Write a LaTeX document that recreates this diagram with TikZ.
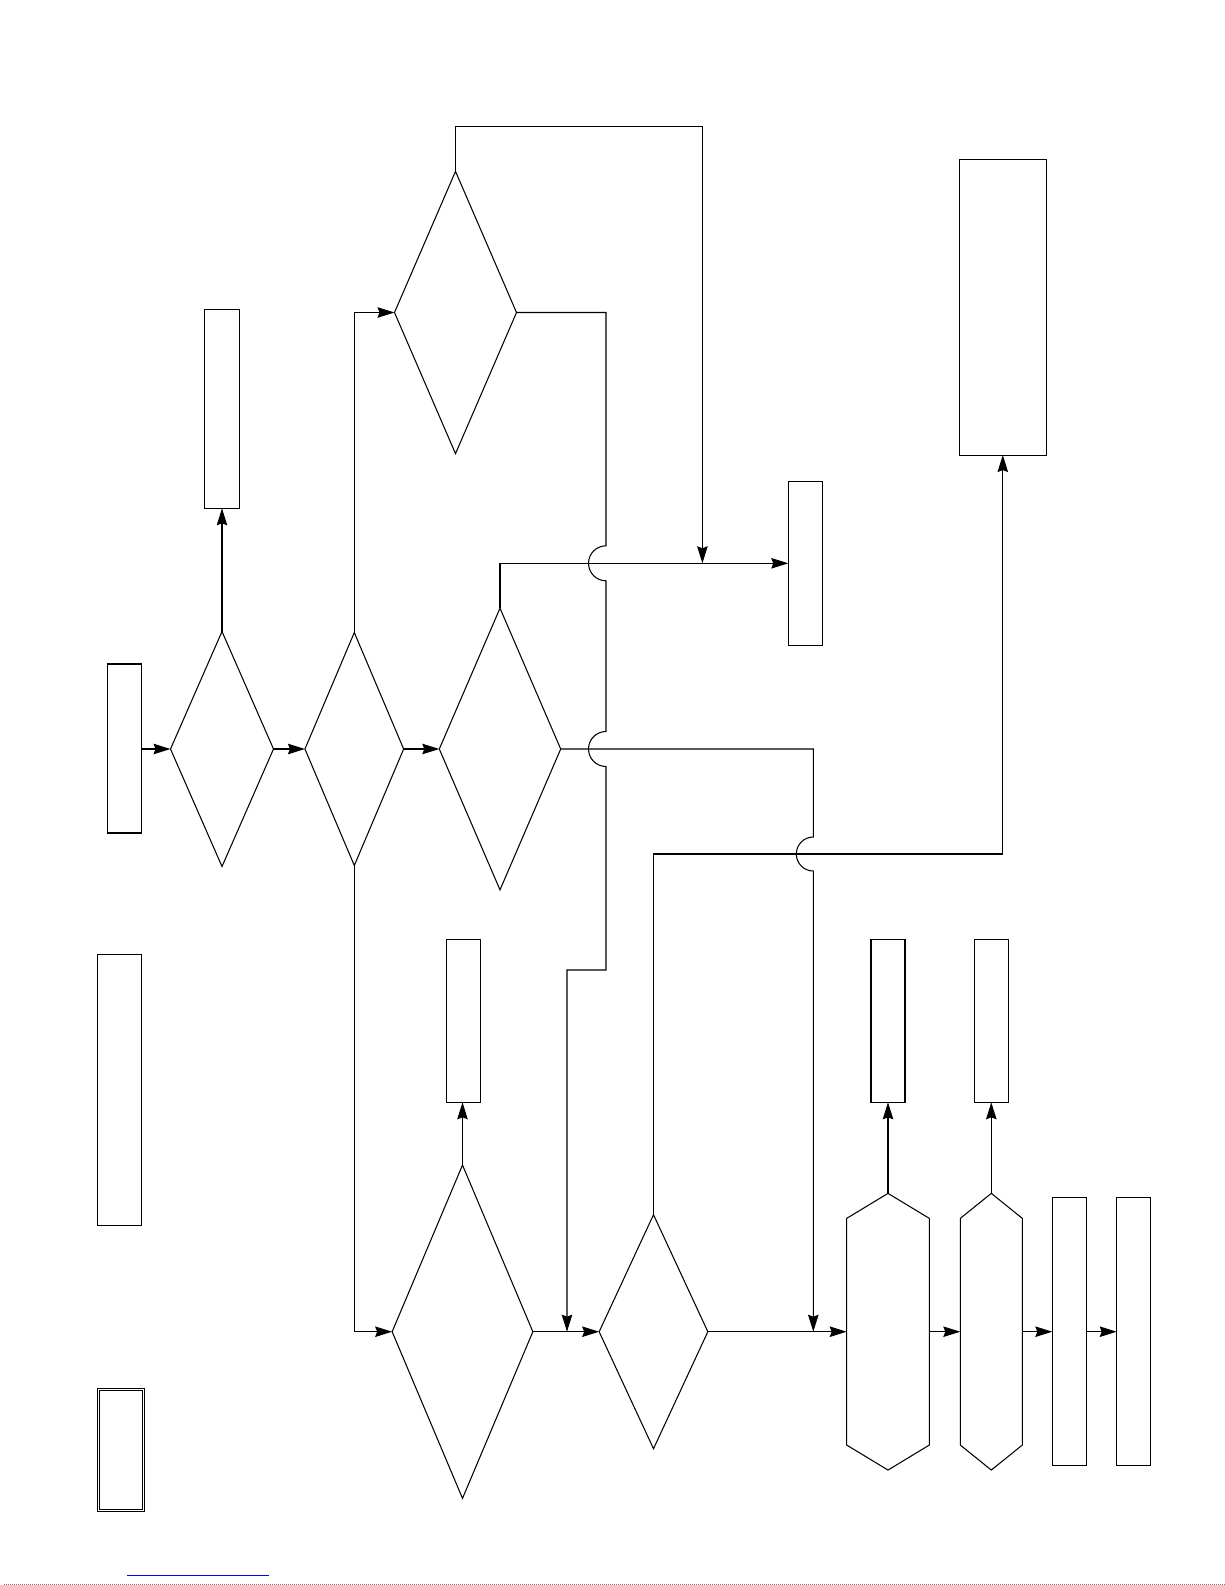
\documentclass[tikz,border=0pt]{standalone}
\usetikzlibrary{shapes.geometric,arrows.meta}
\begin{document}
\begin{tikzpicture}[x=1pt,y=-1pt,
  box/.style={draw, rectangle, inner sep=0pt, outer sep=0pt, line width=1.05pt},
  dec/.style={draw, diamond, aspect=1, inner sep=0pt, outer sep=0pt, line width=1.05pt},
  hexb/.style={rectangle, inner sep=0pt, outer sep=0pt},
  link/.style={line width=1.05pt},
  arr/.style={link, -{Stealth[length=17pt,width=10.5pt,inset=2pt]}}]
\useasboundingbox (0,0) rectangle (1225,1585);
% main row
\node[box, minimum width=34.4pt, minimum height=169pt] (rA) at (124.5,748.5) {};
\node[dec, minimum width=103pt, minimum height=235pt] (d1) at (222,749) {};
\node[dec, minimum width=98.7pt, minimum height=233pt] (d2) at (354.3,749) {};
\node[dec, minimum width=121.4pt, minimum height=281.7pt] (d3) at (500,749) {};
\node[box, minimum width=34.4pt, minimum height=198.6pt] (rB) at (222,409) {};
\node[dec, minimum width=122pt, minimum height=282.3pt] (dT) at (455.5,312.5) {};
\node[box, minimum width=34pt, minimum height=164pt] (rM) at (805.3,563.3) {};
\node[box, minimum width=87pt, minimum height=295.7pt] (rR) at (1002.8,307.2) {};
% left column
\node[box, minimum width=44.4pt, minimum height=271pt] (rD) at (119.5,1089.8) {};
\node[draw, double, double distance=0.9pt, line width=0.9pt, inner sep=0pt, outer sep=0pt,
      minimum width=45pt, minimum height=121.4pt] (rE) at (121.2,1450) {};
% lower part
\node[box, minimum width=34pt, minimum height=163pt] (rC) at (463.3,1020.8) {};
\node[dec, minimum width=140.7pt, minimum height=333.3pt] (d5) at (462.5,1331.7) {};
\node[dec, minimum width=108.7pt, minimum height=234pt] (d6) at (653.5,1331.7) {};
\node[box, minimum width=34pt, minimum height=163pt] (r3) at (888,1020.8) {};
\node[box, minimum width=34pt, minimum height=163pt] (r4) at (991.3,1020.8) {};
\node[hexb, minimum width=82.6pt, minimum height=276.7pt] (h1) at (888,1331.7) {};
\node[hexb, minimum width=62pt, minimum height=276.7pt] (h2) at (991.3,1331.7) {};
\node[box, minimum width=34pt, minimum height=268pt] (r1) at (1069.3,1331.7) {};
\node[box, minimum width=34pt, minimum height=268pt] (r2) at (1133.7,1331.7) {};
% hexagon outlines
\draw[link] (h1.north) -- ([yshift=-25pt]h1.north east) -- ([yshift=25pt]h1.south east)
  -- (h1.south) -- ([yshift=25pt]h1.south west) -- ([yshift=-25pt]h1.north west) -- cycle;
\draw[link] (h2.north) -- ([yshift=-25pt]h2.north east) -- ([yshift=25pt]h2.south east)
  -- (h2.south) -- ([yshift=25pt]h2.south west) -- ([yshift=-25pt]h2.north west) -- cycle;
% coordinates
\coordinate (loopR) at (702.4,126.7);
\coordinate (jA) at (702.4,563.3);
\coordinate (jB) at (567,1331.7);
\coordinate (jC) at (813.3,1331.7);
\coordinate (c854) at (653.5,854);
% connectors
\draw[arr] (rA.east |- d1.west) -- (d1.west);
\draw[arr] (d1.east) -- (d2.west);
\draw[arr] (d2.east) -- (d3.west);
\draw[arr] (d1.north) -- (rB.south);
\draw[arr] (d2.north) |- (dT.west);
\draw[arr] (d2.south) |- (d5.west);
\draw[arr] (dT.north) |- (loopR) -- (jA);
\draw[arr] (d3.north) |- (rM.west);
\draw[arr] (dT.east) -- (606,312.5) -- (606,545.8)
  arc[start angle=90,end angle=270,radius=17.5pt] -- (606,731.5)
  arc[start angle=90,end angle=270,radius=17.5pt] -- (606,970) -- (567,970) -- (jB);
\draw[arr] (d3.east) -- (813.3,749) -- (813.3,837)
  arc[start angle=90,end angle=270,radius=17pt] -- (jC);
\draw[arr] (d6.north) -- (c854) -| (rR.south);
\draw[arr] (d5.north) -- (d5.north |- rC.south);
\draw[arr] (d5.east) -- (d6.west);
\draw[arr] (d6.east) -- (h1.west);
\draw[arr] (h1.east) -- (h2.west);
\draw[arr] (h2.east) -- (r1.west);
\draw[arr] (r1.east) -- (r2.west);
\draw[arr] (h1.north) -- (r3.south);
\draw[arr] (h2.north) -- (r4.south);
% bottom marks
\draw[blue, line width=1.3pt] (127,1575.3) -- (268.7,1575.3);
\draw[gray, line width=1pt, dash pattern=on 1pt off 1pt] (4,1584.3) -- (1225,1584.3);
\end{tikzpicture}
\end{document}
